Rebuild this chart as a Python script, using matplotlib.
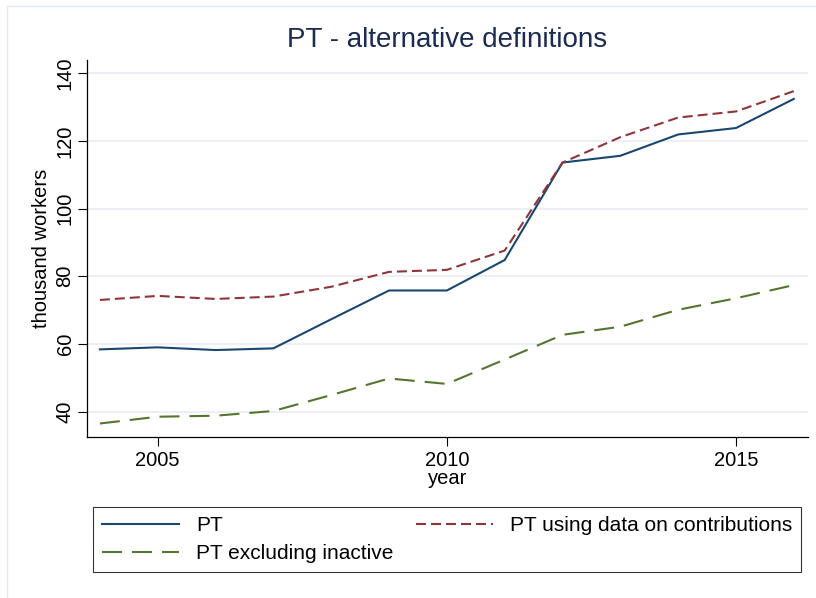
import matplotlib
matplotlib.use("Agg")
import matplotlib.pyplot as plt
from matplotlib.patches import Rectangle

plt.rcParams["font.family"] = ["Liberation Sans", "DejaVu Sans"]
plt.rcParams["lines.scale_dashes"] = False

# series, thousand workers
years = [2004, 2005, 2006, 2007, 2008, 2009, 2010, 2011, 2012, 2013, 2014, 2015, 2016]
pt = [58.4, 59.0, 58.2, 58.7, 67.3, 75.8, 75.8, 84.8, 113.6, 115.6, 121.9, 123.8, 132.4]
pt_contrib = [73.0, 74.2, 73.3, 74.0, 76.9, 81.3, 81.9, 87.6, 113.6, 121.1, 126.9, 128.7, 134.7]
pt_active = [36.5, 38.5, 38.8, 40.2, 44.9, 49.8, 48.2, 55.4, 62.7, 65.1, 70.1, 73.5, 77.4]

labels = ["PT", "PT using data on contributions", "PT excluding inactive"]
xticks = [2005, 2010, 2015]
yticks = [40, 60, 80, 100, 120, 140]

navy = "#1a476f"
maroon = "#90353b"
green = "#55752f"

W, H = 816, 598
fig = plt.figure(figsize=(W / 100, H / 100), dpi=100)
fig.patch.set_facecolor("white")

# faint frame round the graph region
fig.patches.append(Rectangle((7 / W, -0.1), 1.2, 1.1 - 6 / H, transform=fig.transFigure,
                             fill=False, edgecolor="#e3e9ee", linewidth=1))

left, right, top, bottom = 87, 807.7, 60, 436.7
ax = fig.add_axes([left / W, 1 - bottom / H, (right - left) / W, (bottom - top) / H])

l1, = ax.plot(years, pt, color=navy, lw=1.5, solid_joinstyle="miter")
l2, = ax.plot(years, pt_contrib, color=maroon, lw=1.5, dashes=(7.2, 3.6))
l3, = ax.plot(years, pt_active, color=green, lw=1.5, dashes=(14.4, 7.2))

ax.set_xlim(2003.777, 2016.24)
ax.set_ylim(32.6, 143.9)
ax.set_xticks(xticks)
ax.set_yticks(yticks)
ax.yaxis.grid(True, color="#eaeff3", lw=1.3)
ax.set_axisbelow(True)

for s in ["top", "right"]:
    ax.spines[s].set_visible(False)
for s in ["left", "bottom"]:
    ax.spines[s].set_linewidth(0.9)
    ax.spines[s].set_color("black")

ax.tick_params(axis="both", direction="out", length=6.5, width=0.8, labelsize=14.5)
ax.tick_params(axis="x", pad=4)
ax.tick_params(axis="y", pad=2.5, labelrotation=90)
for t in ax.get_yticklabels():
    t.set_va("center")

ax.set_xlabel("year", fontsize=14.5)
ax.xaxis.set_label_coords(0.5, -0.085)

fig.text(42 / W, 1 - 248 / H, "thousand workers", rotation=90, ha="center", va="center",
         fontsize=14.5)

fig.text(447.4 / W, 1 - 40 / H, "PT - alternative definitions", ha="center", va="center",
         fontsize=20, color="#1c2b52")

leg = fig.legend([l1, l3, l2], [labels[0], labels[2], labels[1]], ncol=2, mode="expand",
                 loc="lower left", bbox_to_anchor=(93.3 / W, 1 - 572 / H, (801 - 93.3) / W, 0.2),
                 borderaxespad=0, fontsize=15, frameon=True, fancybox=False,
                 handlelength=3.7, handletextpad=0.8, labelspacing=0.45, borderpad=0.42)
leg.get_frame().set_edgecolor("black")
leg.get_frame().set_linewidth(0.8)

fig.savefig("out.png", dpi=100)
